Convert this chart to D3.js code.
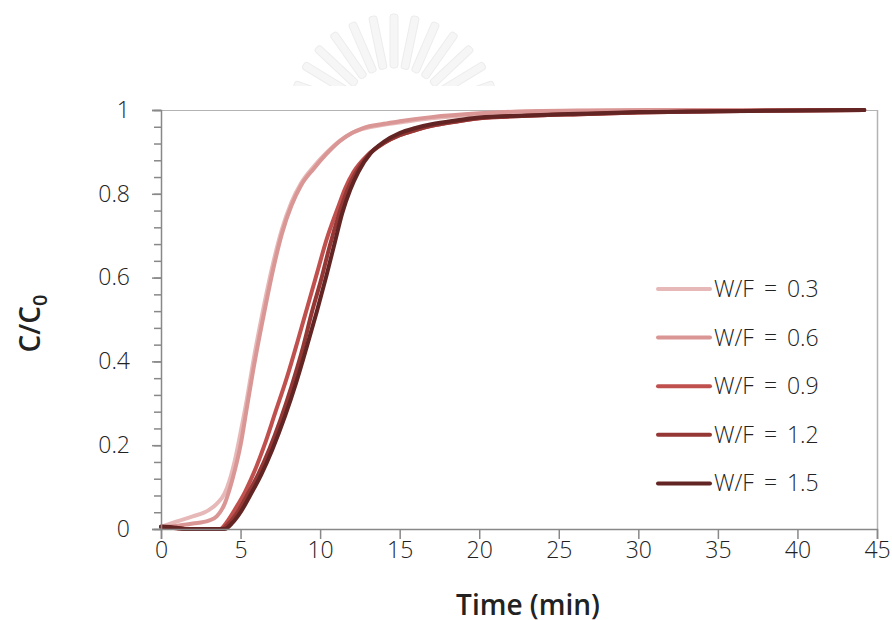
<!DOCTYPE html>
<html>
<head>
<meta charset="utf-8">
<script src="https://cdn.jsdelivr.net/npm/d3@7"></script>
<style>
  html, body { margin: 0; padding: 0; background: #fff; }
  svg { display: block; }
  text { font-family: "Open Sans", "DejaVu Sans", sans-serif; fill: #222; }
</style>
</head>
<body>
<script>
// ---------------- data ----------------
const seriesNames = ["W/F = 0.3", "W/F = 0.6", "W/F = 0.9", "W/F = 1.2", "W/F = 1.5"];
const seriesColors = ["#E6B9B8", "#D99694", "#C0504D", "#953735", "#632523"];

const t03 = [0, 1, 2, 3, 3.5, 4, 4.3, 4.65, 5, 5.4, 5.8, 6.4, 7.05, 7.6, 8.2, 8.8, 9.6, 10.4, 11.25, 12, 12.7, 14, 15, 17, 20, 23, 27, 32, 38, 44.2];
const v03 = [0.005, 0.018, 0.03, 0.045, 0.06, 0.085, 0.115, 0.165, 0.23, 0.31, 0.40, 0.52, 0.635, 0.715, 0.78, 0.825, 0.865, 0.898, 0.927, 0.945, 0.955, 0.965, 0.97, 0.98, 0.99, 0.995, 0.998, 0.999, 1, 1];

const t06 = [0, 1, 2, 3, 3.5, 4, 4.5, 5, 5.4, 5.8, 6.4, 7.05, 7.6, 8.2, 8.8, 9.6, 10.4, 11.25, 12, 12.7, 14, 15, 17, 20, 23, 27, 32, 38, 44.2];
const v06 = [0.003, 0.008, 0.013, 0.02, 0.03, 0.06, 0.12, 0.2, 0.29, 0.38, 0.5, 0.62, 0.705, 0.772, 0.82, 0.86, 0.895, 0.926, 0.945, 0.957, 0.967, 0.973, 0.983, 0.992, 0.997, 0.999, 1, 1, 1];

const t09 = [0, 1, 1.5, 3.7, 4.2, 4.7, 5.3, 5.9, 6.5, 7.2, 7.9, 8.6, 9.2, 9.8, 10.4, 11.1, 11.6, 12.1, 13, 14, 15, 16, 17, 18.5, 20, 23, 26.3, 30, 35, 40, 44.2];
const v09 = [0.005, 0.002, 0, 0, 0.02, 0.05, 0.09, 0.14, 0.2, 0.28, 0.36, 0.45, 0.53, 0.61, 0.69, 0.765, 0.815, 0.852, 0.893, 0.921, 0.94, 0.952, 0.962, 0.972, 0.98, 0.986, 0.99, 0.994, 0.997, 0.999, 1];

const t12 = [0, 1, 1.5, 3.8, 4.3, 4.8, 5.4, 6.1, 6.8, 7.5, 8.2, 8.9, 9.5, 10.1, 10.6, 11.2, 11.7, 12.2, 13, 14, 15, 16, 17, 18.5, 20, 23, 26.3, 30, 35, 40, 44.2];
const v12 = [0.005, 0.002, 0, 0, 0.015, 0.04, 0.08, 0.13, 0.19, 0.26, 0.34, 0.43, 0.52, 0.60, 0.675, 0.753, 0.808, 0.848, 0.891, 0.921, 0.94, 0.952, 0.962, 0.972, 0.98, 0.986, 0.99, 0.994, 0.997, 0.999, 1];

const t15 = [0, 1, 1.5, 4.0, 4.5, 5.0, 5.6, 6.3, 7.0, 7.8, 8.5, 9.2, 9.8, 10.4, 10.9, 11.4, 11.9, 12.4, 13.2, 14, 15, 16, 17, 18.5, 20, 23, 26.3, 30, 35, 40, 44.2];
const v15 = [0.006, 0.003, 0, 0, 0.015, 0.04, 0.08, 0.13, 0.19, 0.27, 0.35, 0.44, 0.52, 0.605, 0.68, 0.755, 0.81, 0.852, 0.898, 0.924, 0.945, 0.957, 0.966, 0.975, 0.982, 0.987, 0.991, 0.995, 0.997, 0.999, 1];

const xTicks = [0, 5, 10, 15, 20, 25, 30, 35, 40, 45];
const yTicks = [0, 0.2, 0.4, 0.6, 0.8, 1];
const yMinorTicks = d3.range(0, 1.0001, 0.04);

const seriesT = [t03, t06, t09, t12, t15];
const seriesV = [v03, v06, v09, v12, v15];

// ---------------- layout ----------------
const W = 892, H = 620;
const svg = d3.select("body").append("svg").attr("width", W).attr("height", H);

const x = d3.scaleLinear().domain([0, 45]).range([161, 877]);
const y = d3.scaleLinear().domain([0, 1]).range([529, 110]);

// faint watermark fan
const defs = svg.append("defs");
defs.append("clipPath").attr("id", "wmclip").append("rect")
  .attr("x", 250).attr("y", 0).attr("width", 300).attr("height", 86);
const wmg = svg.append("g").attr("clip-path", "url(#wmclip)");
const cx = 394, cy = 120;
d3.range(15).forEach(i => {
  const a = -172 + i * (164 / 14);
  wmg.append("rect")
    .attr("x", 52).attr("y", -4).attr("width", 54).attr("height", 8)
    .attr("rx", 3)
    .attr("fill", "#f6f6f6").attr("stroke", "#ececec").attr("stroke-width", 1)
    .attr("transform", `translate(${cx},${cy}) rotate(${a})`);
});

// plot frame (top/right)
svg.append("line").attr("x1", 161).attr("x2", 878).attr("y1", 110.5).attr("y2", 110.5)
  .attr("stroke", "#b3b3b3").attr("stroke-width", 1);
svg.append("line").attr("x1", 877.5).attr("x2", 877.5).attr("y1", 110).attr("y2", 529)
  .attr("stroke", "#b3b3b3").attr("stroke-width", 1.5);

// lines
const line = d3.line()
  .x(d => x(d[0])).y(d => y(d[1]))
  .curve(d3.curveMonotoneX);

const plot = svg.append("g");
seriesT.forEach((ts, i) => {
  const pts = ts.map((t, j) => [t, seriesV[i][j]]);
  plot.append("path")
    .datum(pts)
    .attr("d", line)
    .attr("fill", "none")
    .attr("stroke", seriesColors[i])
    .attr("stroke-width", 4)
    .attr("stroke-linejoin", "round")
    .attr("stroke-linecap", "round");
});

// axes
const axisColor = "#888";
const gx = svg.append("g").attr("transform", `translate(0,${y(0)})`)
  .call(d3.axisBottom(x).tickValues(xTicks).tickSize(10).tickPadding(3).tickFormat(d3.format("d")));
gx.select(".domain").attr("stroke", axisColor).attr("stroke-width", 1.5);
gx.selectAll(".tick line").attr("stroke", axisColor).attr("stroke-width", 1.5);
gx.selectAll(".tick text").attr("font-size", 23).attr("font-family", "'Open Sans', sans-serif").attr("fill", "#222").attr("font-weight", 300);

const gyMinor = svg.append("g").attr("transform", `translate(${x(0)},0)`)
  .call(d3.axisLeft(y).tickValues(yMinorTicks).tickSize(7).tickFormat(""));
gyMinor.select(".domain").remove();
gyMinor.selectAll(".tick line").attr("stroke", axisColor).attr("stroke-width", 1.5);

const gy = svg.append("g").attr("transform", `translate(${x(0)},0)`)
  .call(d3.axisLeft(y).tickValues(yTicks).tickSize(9).tickPadding(22)
    .tickFormat(d => (d === 0 || d === 1) ? String(d) : d.toFixed(1)));
gy.select(".domain").attr("stroke", axisColor).attr("stroke-width", 1.5);
gy.selectAll(".tick line").attr("stroke", axisColor).attr("stroke-width", 1.5);
gy.selectAll(".tick text").attr("font-size", 23).attr("font-family", "'Open Sans', sans-serif").attr("fill", "#222").attr("font-weight", 300);

// axis titles
svg.append("text")
  .attr("x", (x(0) + x(45)) / 2 + 9).attr("y", 615)
  .attr("text-anchor", "middle")
  .attr("font-size", 28).attr("font-weight", 600)
  .text("Time (min)");

const yt = svg.append("text")
  .attr("transform", `translate(40,${(y(0) + y(1)) / 2 + 4}) rotate(-90)`)
  .attr("text-anchor", "middle")
  .attr("font-size", 28).attr("font-weight", 600);
yt.append("tspan").text("C/C");
yt.append("tspan").attr("font-size", 20).attr("dy", 7).text("0");

// legend
const legend = svg.append("g");
seriesNames.forEach((name, i) => {
  const ly = 289 + i * 48.6;
  legend.append("line")
    .attr("x1", 658).attr("x2", 710).attr("y1", ly).attr("y2", ly)
    .attr("stroke", seriesColors[i]).attr("stroke-width", 4).attr("stroke-linecap", "round");
  legend.append("text")
    .attr("x", 714).attr("y", ly + 8)
    .attr("font-size", 23).attr("font-weight", 300)
    .attr("word-spacing", 4)
    .text(name);
});
</script>
</body>
</html>
